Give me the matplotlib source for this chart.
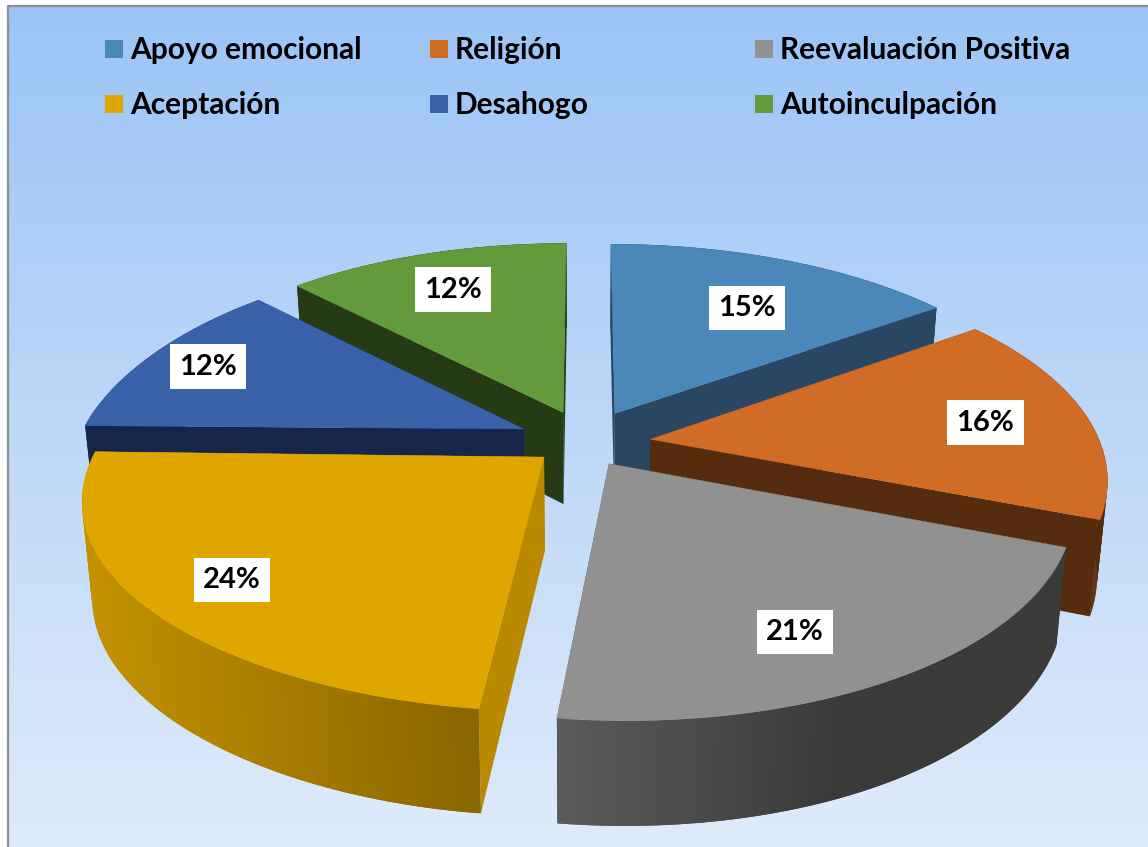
import numpy as np
import matplotlib
matplotlib.use("Agg")
import matplotlib.pyplot as plt
from matplotlib.patches import Polygon, Rectangle

plt.rcParams['font.family'] = ['Lato', 'DejaVu Sans']

# data
labels = ["Apoyo emocional", "Religión", "Reevaluación Positiva",
          "Aceptación", "Desahogo", "Autoinculpación"]
values = [15, 16, 21, 24, 12, 12]
top_colors = ["#4C87BA", "#D16C27", "#919191", "#E0A600", "#3A62AA", "#639A3B"]
cut_colors = ["#294763", "#562B0E", "#3C3C3C", "#B98A00", "#15264A", "#263A16"]
# outer wall colours, left end of the arc and right end of the arc
wall_left = ["#294763", "#562B0E", "#5C5C5C", "#C49200", "#15264A", "#263A16"]
wall_right = ["#294763", "#562B0E", "#3A3A3A", "#8A6600", "#15264A", "#263A16"]
wall_stop = [1, 1, 0.55, 1, 1, 1]

# projection of the disc
cx, cy = 586, 438.5
rx, ry = 448, 205
persp = 0.166
depth = 93
shrink = 0.98
front_shift = 10   # the front of the disc leans a little to the right
left_drop = 5.5    # and its far left side sits a little lower
explode_x = [0.145, 0.145, 0.098, 0.12, 0.155, 0.142]
explode_y = [0.14, -0.03, 0.14, 0.14, 0.11, 0.14]
# nudges of the percent labels, pixels
label_dx = [8, 29, -3, -46, -50, -10]
label_dy = [6, 1, 25, 20, -7, -7]

fig = plt.figure(figsize=(11.48, 8.47), dpi=100)
ax = fig.add_axes([0, 0, 1, 1])

# background gradient and frame
grad = np.linspace(0, 1, 256).reshape(-1, 1, 1)
c0 = np.array([155, 196, 246]) / 255
c1 = np.array([223, 235, 250]) / 255
ax.imshow(c0 + (c1 - c0) * grad, extent=[8, 1148, 847, 6], aspect='auto', zorder=0)
ax.set_xlim(0, 1148)
ax.set_ylim(847, 0)
ax.axis('off')
ax.plot([8, 8, 1148], [847, 6, 6], color="#8E8E8E", lw=1.6, zorder=1)


def project(u, v, bottom=False):
    w = 1 - persp * v
    x = rx * u / w + front_shift * max(v, 0) ** 2
    y = ry * v / w + left_drop * max(-u, 0) ** 4
    if bottom:
        return cx + x * shrink, cy + y + depth / w ** 0.6
    return cx + x, cy + y


def hexrgb(c):
    return np.array(matplotlib.colors.to_rgb(c))


total = sum(values)
fractions = np.array(values) / total
ends = np.cumsum(fractions) * 2 * np.pi
starts = ends - fractions * 2 * np.pi
mids = (starts + ends) / 2

order = np.argsort(-np.cos(mids))  # back slices first
z = 2
for i in order:
    ox, oy = explode_x[i] * np.sin(mids[i]), -explode_y[i] * np.cos(mids[i])
    th = np.linspace(starts[i], ends[i], 160)
    us = ox + np.sin(th)
    vs = oy - np.cos(th)

    faces = []
    # two cut faces
    for a in (0, -1):
        pts = [project(ox, oy), project(us[a], vs[a]),
               project(us[a], vs[a], True), project(ox, oy, True)]
        faces.append(((vs[a] + oy) / 2, pts, cut_colors[i]))
    # outer wall, one small strip per step, each overlaps the next one
    sx = np.array([project(u, v)[0] for u, v in zip(us, vs)])
    span = max(sx.max() - sx.min(), 1)
    for k in range(len(th) - 1):
        k2 = min(k + 2, len(th) - 1)
        pts = [project(us[k], vs[k]), project(us[k2], vs[k2]),
               project(us[k2], vs[k2], True), project(us[k], vs[k], True)]
        t = min((sx[k] - sx.min()) / span / wall_stop[i], 1)
        col = hexrgb(wall_left[i]) + (hexrgb(wall_right[i]) - hexrgb(wall_left[i])) * t
        faces.append((vs[k], pts, col))
    faces.sort(key=lambda f: f[0])
    for _, pts, col in faces:
        ax.add_patch(Polygon(pts, closed=True, facecolor=col, edgecolor='none',
                             zorder=z))
    top = [project(ox, oy)] + [project(u, v) for u, v in zip(us, vs)]
    ax.add_patch(Polygon(top, closed=True, facecolor=top_colors[i],
                         edgecolor=top_colors[i], lw=0.3, zorder=z + 0.5))
    # percent label with a white box
    lu, lv = ox + 0.70 * np.sin(mids[i]), oy - 0.70 * np.cos(mids[i])
    lx, ly = project(lu, lv)
    ax.text(lx + label_dx[i], ly + label_dy[i], "%d%%" % values[i], ha='center',
            va='center', fontsize=21, fontweight='bold', color='black', zorder=20,
            bbox=dict(facecolor='white', edgecolor='none', pad=6.8))
    z += 1

# legend
leg_x = [105, 430, 755]
leg_y = [49, 104]
for n, name in enumerate(labels):
    x = leg_x[n % 3]
    y = leg_y[n // 3]
    ax.add_patch(Rectangle((x, y - 9), 18, 18, facecolor=top_colors[n],
                           edgecolor='none', zorder=30))
    ax.text(x + 25, y + 1, name, ha='left', va='center', fontsize=21.5,
            fontweight='bold', color='black', zorder=30)

fig.savefig("out.png", dpi=100)
